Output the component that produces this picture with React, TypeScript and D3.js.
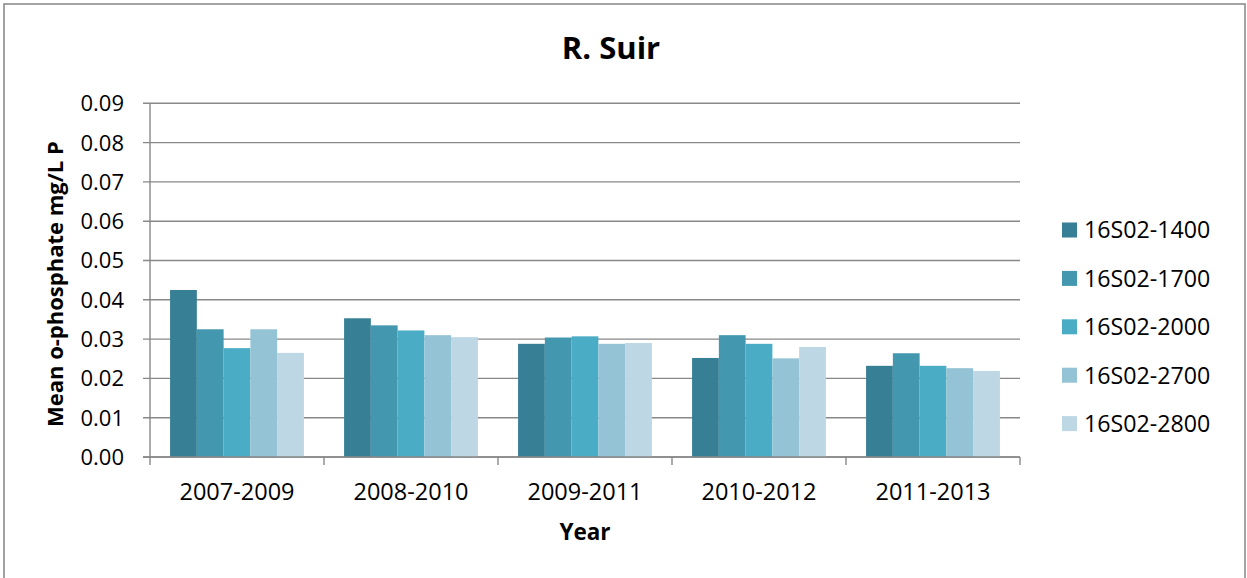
import React from "react";
import * as d3 from "d3";

const categories = ["2007-2009", "2008-2010", "2009-2011", "2010-2012", "2011-2013"];
const seriesNames = ["16S02-1400", "16S02-1700", "16S02-2000", "16S02-2700", "16S02-2800"];
const s1400 = [0.0425, 0.0353, 0.0288, 0.0252, 0.0232];
const s1700 = [0.0325, 0.0335, 0.0304, 0.031, 0.0264];
const s2000 = [0.0277, 0.0322, 0.0307, 0.0288, 0.0232];
const s2700 = [0.0325, 0.031, 0.0288, 0.0251, 0.0226];
const s2800 = [0.0265, 0.0305, 0.029, 0.028, 0.0219];
const yTicks = [0, 0.01, 0.02, 0.03, 0.04, 0.05, 0.06, 0.07, 0.08, 0.09];
const colors = ["#377F94", "#4397AF", "#4BACC6", "#93C3D5", "#BDD8E4"];

const seriesValues = [s1400, s1700, s2000, s2700, s2800];

const W = 1247;
const H = 578;
const FONT = "'Open Sans', 'DejaVu Sans', sans-serif";
const left = 150, right = 1020, top = 103.3, bottom = 457;

export default function App() {
  const x0 = d3.scaleBand<string>().domain(categories).range([left, right]).padding(0);
  const x1 = d3
    .scaleBand<string>()
    .domain(seriesNames)
    .range([0, x0.bandwidth()])
    .paddingInner(0)
    .paddingOuter(0.75);
  const y = d3.scaleLinear().domain([0, 0.09]).range([bottom, top]);
  const grid = "#888888";

  return (
    <svg
      width={W}
      height={H}
      style={{ position: "absolute", left: 0, top: 0, background: "#fff" }}
      fontFamily={FONT}
    >
      <rect x={4} y={4} width={1241} height={620} fill="#fff" stroke="#8c8c8c" strokeWidth={1.6} />
      <text x={611} y={59} textAnchor="middle" fontSize={31} fontWeight="bold" fill="#000">
        R. Suir
      </text>
      {yTicks.map((t) => (
        <g key={t}>
          <line x1={left - 7} x2={right} y1={y(t)} y2={y(t)} stroke={grid} strokeWidth={1.4} />
          <text x={124} y={y(t)} dy="0.36em" textAnchor="end" fontSize={22} fill="#000">
            {d3.format(".2f")(t)}
          </text>
        </g>
      ))}
      {categories.map((c, ci) => (
        <g key={c} transform={`translate(${x0(c)},0)`}>
          {seriesNames.map((s, si) => {
            const v = seriesValues[si][ci];
            return (
              <rect
                key={s}
                x={x1(s)}
                y={y(v)}
                width={x1.bandwidth()}
                height={y(0) - y(v)}
                fill={colors[si]}
              />
            );
          })}
        </g>
      ))}
      <line x1={left} x2={left} y1={top} y2={bottom} stroke={grid} strokeWidth={1.4} />
      <line x1={left - 7} x2={right} y1={bottom} y2={bottom} stroke={grid} strokeWidth={1.4} />
      {categories.map((c) => (
        <line key={c} x1={x0(c)} x2={x0(c)} y1={bottom} y2={bottom + 8} stroke={grid} strokeWidth={1.4} />
      ))}
      <line x1={right} x2={right} y1={bottom} y2={bottom + 8} stroke={grid} strokeWidth={1.4} />
      {categories.map((c) => (
        <text
          key={c}
          x={(x0(c) as number) + x0.bandwidth() / 2}
          y={500}
          textAnchor="middle"
          fontSize={23.5}
          fill="#000"
        >
          {c}
        </text>
      ))}
      <text x={585} y={540} textAnchor="middle" fontSize={22.5} fontWeight="bold" fill="#000">
        Year
      </text>
      <text
        transform={`translate(63,${(top + bottom) / 2 + 4}) rotate(-90)`}
        textAnchor="middle"
        fontSize={22}
        fontWeight="bold"
        fill="#000"
      >
        Mean o-phosphate mg/L P
      </text>
      {seriesNames.map((s, i) => {
        const cy = 230 + i * 48.4;
        return (
          <g key={s}>
            <rect x={1062} y={cy - 7.5} width={15} height={15} fill={colors[i]} />
            <text x={1084} y={cy + 8.3} fontSize={23.2} fill="#000">
              {s}
            </text>
          </g>
        );
      })}
    </svg>
  );
}
